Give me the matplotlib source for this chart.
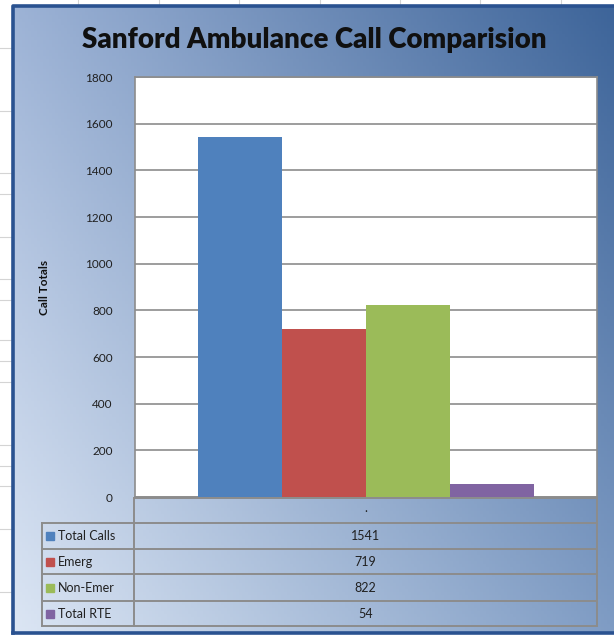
import numpy as np
import matplotlib.pyplot as plt
from matplotlib.colors import to_rgb

# data
series = ['Total Calls', 'Emerg', 'Non-Emer', 'Total RTE']
values = [1541, 719, 822, 54]
colors = ['#4f81bd', '#c0504d', '#9bbb59', '#8064a2']
category = '.'
yticks = [0, 200, 400, 600, 800, 1000, 1200, 1400, 1600, 1800]

W, H = 614, 637
fig = plt.figure(figsize=(W / 100, H / 100), dpi=100)
plt.rcParams['font.family'] = ['Lato', 'DejaVu Sans']

# overlay axes in pixel coordinates for the sheet / frame / table
bg = fig.add_axes([0, 0, 1, 1])
bg.set_xlim(0, W)
bg.set_ylim(H, 0)
bg.axis('off')

# spreadsheet gridlines peeking out around the chart
for x in [78, 159, 239, 320, 400, 480, 561]:
    bg.plot([x, x], [0, 5], color='#d4d4d4', lw=0.8)
for y in [48, 111, 173, 194, 237, 279, 300, 340, 361, 382, 445, 466, 486, 529, 592]:
    bg.plot([0, 12], [y, y], color='#d4d4d4', lw=0.8)

# gradient chart background: light bottom-left -> dark top-right
c_tl = np.array(to_rgb('#9db3d6'))
c_tr = np.array(to_rgb('#3d6499'))
c_bl = np.array(to_rgb('#dce6f4'))
c_br = np.array(to_rgb('#7f9cc4'))
u = np.linspace(0, 1, 200)[None, :, None]
v = np.linspace(0, 1, 200)[:, None, None]
grad = (1 - v) * ((1 - u) * c_tl + u * c_tr) + v * ((1 - u) * c_bl + u * c_br)
bg.imshow(grad, extent=(13, W + 2, 633, 6), aspect='auto', zorder=0)
bg.plot([13, 13, W + 5], [633, 6, 6], color='#2a5290', lw=2.6, zorder=2)
bg.plot([13, W + 5], [633, 633], color='#2a5290', lw=2.6, zorder=2)

bg.text(314, 40, 'Sanford Ambulance Call Comparision', ha='center', va='center',
        fontsize=20, fontweight='heavy', color='#101010')
bg.text(45, 287, 'Call Totals', rotation=90, ha='center', va='center',
        fontsize=8.5, fontweight='bold', color='#101010')

# data table
tl, tm, tr = 42, 134, 597
rows = [498, 523, 549, 574, 601, 626]
gc = '#8c8c8c'
bg.plot([tm, tr], [rows[0], rows[0]], color=gc, lw=1.4)
for y in rows[1:]:
    bg.plot([tl, tr], [y, y], color=gc, lw=1.4)
bg.plot([tl, tl], [rows[1], rows[-1]], color=gc, lw=1.4)
bg.plot([tm, tm], [rows[0], rows[-1]], color=gc, lw=1.4)
bg.plot([tr, tr], [rows[0], rows[-1]], color=gc, lw=1.4)
xc = (tm + tr) / 2
bg.text(xc, (rows[0] + rows[1]) / 2 - 3, category, ha='center', va='center',
        fontsize=9, color='#202020')
for i, (name, val, col) in enumerate(zip(series, values, colors)):
    yc = (rows[i + 1] + rows[i + 2]) / 2
    bg.add_patch(plt.Rectangle((46, yc - 4), 8, 8, color=col))
    bg.text(58, yc, name, ha='left', va='center', fontsize=9, color='#202020')
    bg.text(xc, yc, str(val), ha='center', va='center', fontsize=9, color='#202020')

# plot area
ax = fig.add_axes([135 / W, (H - 497) / H, 462 / W, 420 / H])
ax.set_facecolor('white')
n = len(series)
bw = 1 / (n + 1.5)
x = (np.arange(n) - (n - 1) / 2) * bw
ax.bar(x, values, width=bw, color=colors, zorder=3)
ax.set_xlim(-0.5, 0.5)
ax.set_ylim(0, 1800)
ax.set_yticks(yticks)
ax.set_xticks([])
ax.grid(axis='y', color='#8c8c8c', lw=1.2, zorder=0)
ax.tick_params(axis='y', length=0, pad=16, labelsize=8.5, labelcolor='#202020')
for s in ax.spines.values():
    s.set_color('#8c8c8c')
    s.set_linewidth(1.2)

fig.savefig('out.png', dpi=100)
